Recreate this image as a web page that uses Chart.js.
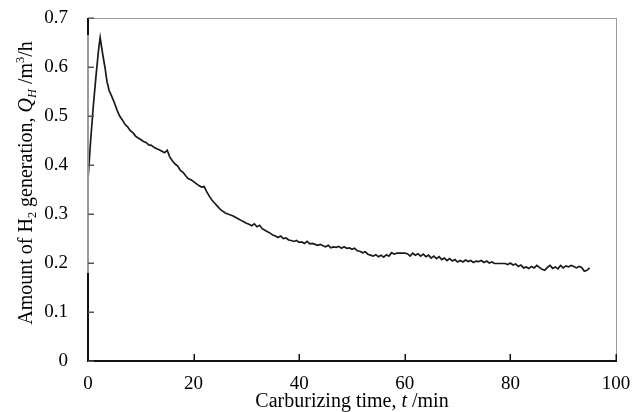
<!DOCTYPE html>
<html>
<head>
<meta charset="utf-8">
<script src="https://cdn.jsdelivr.net/npm/chart.js@4.4.1/dist/chart.umd.min.js"></script>
<style>
  body { margin: 0; background: #fff; }
</style>
</head>
<body>
<canvas id="myChart" width="641" height="412"></canvas>
<script>
// carburizing time (min)
const timeMin = [
  0, 0.5, 1, 1.5, 2, 2.3, 2.8, 3.2, 3.6, 4, 4.5, 5, 5.5, 6, 6.5, 7, 7.5, 8, 8.5, 9, 9.5,
  10, 10.5, 11, 11.5, 12, 12.5, 13, 13.5, 14, 14.5, 15, 15.5, 16, 16.5, 17, 17.5, 18, 18.5, 19, 19.5,
  20, 20.5, 21, 21.5, 22, 22.5, 23, 23.5, 24, 24.5, 25, 25.5, 26, 26.5, 27, 27.5, 28, 28.5, 29, 29.5,
  30, 30.5, 31, 31.5, 32, 32.5, 33, 33.5, 34, 34.5, 35, 35.5, 36, 36.5, 37, 37.5, 38, 38.5, 39, 39.5,
  40, 40.5, 41, 41.5, 42, 42.5, 43, 43.5, 44, 44.5, 45, 45.5, 46, 46.5, 47, 47.5, 48, 48.5, 49, 49.5,
  50, 50.5, 51, 51.5, 52, 52.5, 53, 53.5, 54, 54.5, 55, 55.5, 56, 56.5, 57, 57.5, 58, 58.5, 59,
  60, 60.5, 61, 61.5, 62, 62.5, 63, 63.5, 64, 64.5, 65, 65.5, 66, 66.5, 67, 67.5, 68, 68.5, 69, 69.5,
  70, 70.5, 71, 71.5, 72, 72.5, 73, 73.5, 74, 74.5, 75, 75.5, 76, 76.5, 77, 78, 79, 79.5,
  80, 80.5, 81, 81.5, 82, 82.5, 83, 83.5, 84, 84.5, 85, 85.5, 86, 86.5, 87, 87.5, 88, 88.5, 89, 89.5,
  90, 90.5, 91, 91.5, 92, 92.5, 93, 93.5, 94, 94.5, 95
]

// amount of H2 generation (m3/h)
const qH = [
  0.370, 0.450, 0.520, 0.580, 0.635, 0.660, 0.625, 0.600, 0.570, 0.552, 0.540, 0.527, 0.512, 0.500, 0.492, 0.483, 0.478, 0.470, 0.466, 0.459, 0.455,
  0.452, 0.448, 0.446, 0.441, 0.440, 0.436, 0.433, 0.431, 0.428, 0.425, 0.430, 0.416, 0.408, 0.402, 0.398, 0.389, 0.385, 0.378, 0.372, 0.370,
  0.366, 0.362, 0.358, 0.355, 0.356, 0.345, 0.336, 0.328, 0.322, 0.316, 0.310, 0.306, 0.302, 0.300, 0.298, 0.296, 0.293, 0.290, 0.287, 0.284,
  0.281, 0.279, 0.276, 0.280, 0.274, 0.277, 0.270, 0.267, 0.264, 0.261, 0.257, 0.255, 0.252, 0.255, 0.250, 0.251, 0.247, 0.246, 0.244, 0.246,
  0.242, 0.243, 0.240, 0.244, 0.239, 0.240, 0.238, 0.236, 0.238, 0.235, 0.233, 0.236, 0.231, 0.233, 0.232, 0.234, 0.230, 0.233, 0.230, 0.231,
  0.228, 0.230, 0.225, 0.224, 0.221, 0.223, 0.218, 0.216, 0.214, 0.217, 0.213, 0.216, 0.212, 0.217, 0.214, 0.221, 0.218, 0.220, 0.220,
  0.220, 0.219, 0.214, 0.220, 0.216, 0.219, 0.214, 0.218, 0.213, 0.216, 0.210, 0.214, 0.209, 0.213, 0.207, 0.210, 0.205, 0.209, 0.204, 0.207,
  0.202, 0.205, 0.202, 0.206, 0.203, 0.205, 0.201, 0.204, 0.203, 0.205, 0.201, 0.204, 0.200, 0.202, 0.199, 0.199, 0.199, 0.197,
  0.200, 0.196, 0.198, 0.193, 0.196, 0.190, 0.192, 0.189, 0.193, 0.190, 0.195, 0.191, 0.187, 0.185, 0.191, 0.195, 0.189, 0.192, 0.188, 0.195,
  0.190, 0.194, 0.192, 0.195, 0.193, 0.190, 0.193, 0.191, 0.183, 0.185, 0.190
]

const xTicks = [0, 20, 40, 60, 80, 100]
const yTicks = [0, 0.1, 0.2, 0.3, 0.4, 0.5, 0.6, 0.7]

const serif = "'Liberation Serif', 'Times New Roman', serif"

// draws a run of text pieces (normal / italic / sub / sup) starting at x, baseline y
function drawRich(ctx, parts, x, y, size) {
  let cx = x
  parts.forEach(p => {
    const s = p.sub || p.sup ? size * 0.62 : size
    ctx.font = (p.it ? 'italic ' : '') + s + 'px ' + serif
    const dy = p.sub ? size * 0.22 : p.sup ? -size * 0.38 : 0
    ctx.fillText(p.t, cx, y + dy)
    cx += ctx.measureText(p.t).width
  })
}
function richWidth(ctx, parts, size) {
  let w = 0
  parts.forEach(p => {
    const s = p.sub || p.sup ? size * 0.62 : size
    ctx.font = (p.it ? 'italic ' : '') + s + 'px ' + serif
    w += ctx.measureText(p.t).width
  })
  return w
}

const xTitle = [{t: 'Carburizing time, '}, {t: 't', it: true}, {t: ' /min'}]
const yTitle = [{t: 'Amount of H'}, {t: '2', sub: true}, {t: ' generation, '}, {t: 'Q', it: true},
  {t: 'H', it: true, sub: true}, {t: ' /m'}, {t: '3', sup: true}, {t: '/h'}]

const frame = {
  id: 'frame',
  afterDraw(chart) {
    const {ctx, chartArea: a, scales} = chart
    const L = Math.round(a.left), R = Math.round(a.right), T = Math.round(a.top), B = Math.round(a.bottom)
    const y02 = Math.round(scales.y.getPixelForValue(0.18))
    ctx.save()
    // top and right border, grey
    ctx.fillStyle = '#9a9a9a'
    ctx.fillRect(L, T, R - L + 1, 1)
    ctx.fillRect(R, T, 1, B - T)
    // left axis: grey in the middle, black at both ends (as in the scan)
    ctx.fillRect(L - 1, T, 2, B - T)
    ctx.fillStyle = '#111'
    ctx.fillRect(L - 1, T, 2, 17)
    ctx.fillRect(L - 1, y02, 2, B - y02 + 1)
    // bottom axis
    ctx.fillRect(L - 1, B - 1, R - L + 2, 2)
    // inward ticks
    xTicks.forEach(v => {
      const px = Math.round(scales.x.getPixelForValue(v))
      ctx.fillRect(px - 0.5, B - 7, 1.5, 7)
    })
    ctx.fillStyle = '#555'
    yTicks.forEach(v => {
      const py = Math.round(scales.y.getPixelForValue(v))
      ctx.fillRect(L, py - 0.5, 6, 1.5)
    })

    // axis titles
    const size = 20
    ctx.fillStyle = '#000'
    ctx.textBaseline = 'alphabetic'
    ctx.textAlign = 'left'
    const wx = richWidth(ctx, xTitle, size)
    drawRich(ctx, xTitle, (a.left + a.right) / 2 - wx / 2, 407, size)
    const wy = richWidth(ctx, yTitle, size)
    ctx.translate(32, 183)
    ctx.rotate(-Math.PI / 2)
    drawRich(ctx, yTitle, -wy / 2, 0, size)
    ctx.restore()
  }
}

new Chart(document.getElementById('myChart'), {
  type: 'scatter',
  data: {
    datasets: [{
      data: timeMin.map((t, i) => ({x: t, y: qH[i]})),
      showLine: true,
      borderColor: '#1a1a1a',
      borderWidth: 1.7,
      pointRadius: 0,
      tension: 0,
      fill: false
    }]
  },
  options: {
    responsive: false,
    animation: false,
    layout: {
      padding: {top: 18, right: 25, bottom: 0, left: 0}
    },
    plugins: {
      legend: {display: false},
      tooltip: {enabled: false}
    },
    scales: {
      x: {
        type: 'linear',
        min: 0,
        max: 100,
        afterFit: s => { s.height = 51; s.paddingLeft = 0; s.paddingRight = 0 },
        afterBuildTicks: s => { s.ticks = xTicks.map(v => ({value: v})) },
        grid: {display: false, drawTicks: false},
        border: {display: false},
        ticks: {
          color: '#000',
          padding: 12,
          maxRotation: 0,
          font: {family: serif, size: 19}
        }
      },
      y: {
        min: 0,
        max: 0.7,
        afterFit: s => { s.width = 88; s.paddingTop = 0; s.paddingBottom = 0 },
        afterBuildTicks: s => { s.ticks = yTicks.map(v => ({value: v})) },
        grid: {display: false, drawTicks: false},
        border: {display: false},
        ticks: {
          color: '#000',
          padding: 20,
          font: {family: serif, size: 19},
          callback: v => String(Math.round(v * 10) / 10)
        }
      }
    }
  },
  plugins: [frame]
})
</script>
</body>
</html>
